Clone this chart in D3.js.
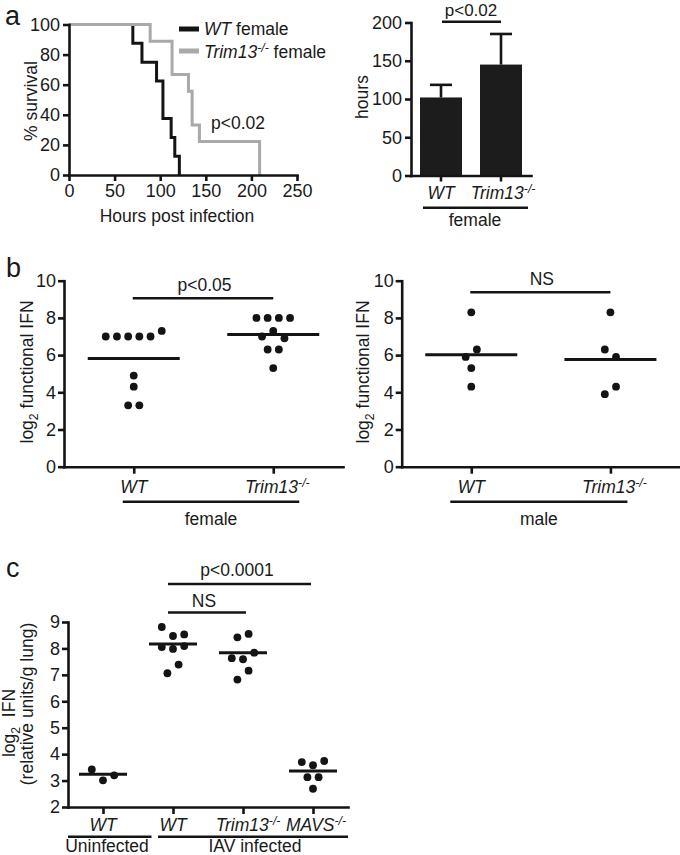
<!DOCTYPE html>
<html><head><meta charset="utf-8">
<script src="https://cdn.jsdelivr.net/npm/d3@7"></script>
<style>
body{margin:0;background:#fff}
svg{display:block;font-family:"Liberation Sans",Arial,Helvetica,sans-serif}
</style></head><body>
<svg id="chart" width="680" height="855"></svg>
<script>
// ---------------- DATA ----------------
// Panel a (left): Kaplan-Meier steps (hours, % survival)
const survWT_t = [0, 70, 80, 96, 103, 112, 116, 121];
const survWT_p = [100, 87.5, 75, 62.5, 37.5, 25, 12.5, 0];
const survKO_t = [0, 89, 113, 131, 135, 143, 209];
const survKO_p = [100, 88.9, 66.7, 55.6, 33.3, 22.2, 0];
const survTicksX = [0, 50, 100, 150, 200, 250];
const survTicksY = [0, 20, 40, 60, 80, 100];

// Panel a (right): mean survival hours
const barGroups = ["WT", "Trim13"];
const barMeans = [102, 145];
const barErrTop = [118.5, 185];
const barTicks = [0, 50, 100, 150, 200];

// Panel b: log2 functional IFN
const bGroups = ["WT", "Trim13"];
const bFemaleWT = [7, 7, 7, 7, 7, 7.3, 4.9, 4.3, 3.3, 3.3];
const bFemaleKO = [8, 8, 8, 8, 7.0, 7.3, 6.9, 6.3, 6.3, 5.3];
const bMaleWT = [8.3, 5.9, 6.3, 5.3, 4.3];
const bMaleKO = [8.3, 6.3, 5.9, 3.9, 4.3];
const bFemaleMeans = [5.82, 7.11];
const bMaleMeans = [6.02, 5.77];
const bTicks = [0, 2, 4, 6, 8, 10];

// Panel c: log2 IFN (relative units/g lung)
const cGroups = ["WTu", "WT", "Trim13", "MAVS"];
const cWTu = [3.42, 3.01, 3.2];
const cWT = [8.81, 8.47, 8.53, 8.05, 7.98, 8.09, 7.06, 7.39];
const cKO = [8.42, 8.55, 7.63, 7.59, 7.84, 6.82, 7.16];
const cMAVS = [3.70, 3.58, 3.74, 3.13, 3.13, 2.69];
const cMeans = [3.24, 8.17, 7.84, 3.36];
const cTicks = [2, 3, 4, 5, 6, 7, 8, 9];

// ---------------- STYLE ----------------
const svg = d3.select("#chart");
const BLACK = "#141414", GREY = "#a9a9a9", TXT = "#1a1a1a";
const TICK_FS = 18, LAB_FS = 17.5, SW = 2.6;
const fmt = d3.format("d");

function styleAxis(g) {
  g.attr("font-family", null).attr("font-size", null);
  g.select(".domain").attr("stroke", BLACK).attr("stroke-width", SW).attr("stroke-linecap", "square");
  g.selectAll(".tick line").attr("stroke", BLACK).attr("stroke-width", SW);
  g.selectAll(".tick text").attr("fill", TXT).style("font-size", TICK_FS + "px");
}
function richText(parent, x, y, parts, opts = {}) {
  const fs = opts.fs || LAB_FS;
  const t = parent.append("text").attr("x", x).attr("y", y)
    .attr("text-anchor", opts.anchor || "start").attr("fill", TXT)
    .style("font-size", fs + "px");
  if (opts.dx) t.attr("dx", opts.dx);
  let back = 0;
  parts.forEach(p => {
    const s = t.append("tspan").text(p.t);
    if (p.italic) s.style("font-style", "italic");
    if (p.sup) { s.attr("dy", -6 - back).style("font-size", (fs * 0.7) + "px"); back = -6; }
    else if (p.sub) { s.attr("dy", 5 - back).style("font-size", (fs * 0.7) + "px"); back = 5; }
    else if (back) { s.attr("dy", -back); back = 0; }
  });
  return t;
}
function hline(parent, x1, x2, y, w, col) {
  parent.append("line").attr("x1", x1).attr("x2", x2).attr("y1", y).attr("y2", y)
    .attr("stroke", col || BLACK).attr("stroke-width", w || SW);
}
function rotLabel(x, y, parts) {
  const g = svg.append("g").attr("transform", `translate(${x},${y}) rotate(-90)`);
  richText(g, 0, 0, parts, { anchor: "middle" });
}
const KO = [{ t: "Trim13", italic: true }, { t: "-/-", italic: true, sup: true }];
const WTl = [{ t: "WT", italic: true }];

// beeswarm-like row layout: points with close y share a centred row
function swarm(values, y, step, thr) {
  const idx = values.map((v, i) => i).sort((a, b) => values[b] - values[a] || a - b);
  const rows = []; let cur = [idx[0]];
  for (let k = 1; k < idx.length; k++) {
    if (Math.abs(y(values[idx[k - 1]]) - y(values[idx[k]])) < thr) cur.push(idx[k]);
    else { rows.push(cur); cur = [idx[k]]; }
  }
  rows.push(cur);
  const off = new Array(values.length).fill(0);
  rows.forEach(r => { r.sort((a, b) => a - b); r.forEach((i, j) => off[i] = (j - (r.length - 1) / 2) * step); });
  return off;
}
function dots(x, y, groups, sets, means, halfW) {
  const g = svg.append("g");
  sets.forEach((vals, gi) => {
    const cx = x(groups[gi]);
    const off = swarm(vals, y, 11.2, 9.5);
    g.selectAll(null).data(vals).join("circle")
      .attr("cx", (d, i) => cx + off[i]).attr("cy", d => y(d)).attr("r", 3.9).attr("fill", BLACK);
    hline(g, cx - halfW, cx + halfW, y(means[gi]), 3);
  });
}
function panelLetter(ch, x, y) {
  svg.append("text").attr("x", x).attr("y", y).text(ch).attr("fill", TXT).style("font-size", "27px");
}

// ---------------- PANEL a: survival ----------------
{
  const x = d3.scaleLinear().domain([0, 250]).range([69, 297]);
  const y = d3.scaleLinear().domain([0, 100]).range([175, 24.5]);
  const line = d3.line().x(d => x(d[0])).y(d => y(d[1])).curve(d3.curveStepAfter);
  svg.append("path").datum(survWT_t.map((t, i) => [t, survWT_p[i]])).attr("d", line)
    .attr("fill", "none").attr("stroke", BLACK).attr("stroke-width", 3);
  svg.append("path").datum(survKO_t.map((t, i) => [t, survKO_p[i]])).attr("d", line)
    .attr("fill", "none").attr("stroke", GREY).attr("stroke-width", 3);
  svg.append("g").attr("transform", `translate(${x(0)},0)`)
    .call(d3.axisLeft(y).tickValues(survTicksY).tickFormat(fmt).tickSize(6).tickPadding(3).tickSizeOuter(0)).call(styleAxis);
  svg.append("g").attr("transform", `translate(0,${y(0)})`)
    .call(d3.axisBottom(x).tickValues(survTicksX).tickFormat(fmt).tickSize(6).tickPadding(3).tickSizeOuter(0)).call(styleAxis);
  svg.append("text").attr("x", 177).attr("y", 222).attr("text-anchor", "middle").attr("fill", TXT)
    .style("font-size", LAB_FS + "px").text("Hours post infection");
  rotLabel(37, 101, [{ t: "% survival" }]);
  // legend
  hline(svg, 179, 199, 29, 5);
  hline(svg, 179, 199, 51, 5, GREY);
  richText(svg, 204, 35, [{ t: "WT", italic: true }, { t: " female" }]);
  richText(svg, 204, 58, [...KO, { t: " female" }]);
  richText(svg, 211, 129, [{ t: "p<0.02" }]);
  panelLetter("a", 5, 25);
}

// ---------------- PANEL a: bars ----------------
{
  const x = d3.scaleBand().domain(barGroups).range([411, 531]).paddingInner(0.3).paddingOuter(0.15);
  const y = d3.scaleLinear().domain([0, 200]).range([175.5, 22.5]);
  const g = svg.append("g");
  barGroups.forEach((k, i) => {
    const cx = x(k) + x.bandwidth() / 2;
    g.append("rect").attr("x", x(k)).attr("width", x.bandwidth())
      .attr("y", y(barMeans[i])).attr("height", y(0) - y(barMeans[i])).attr("fill", "#1c1c1c");
    g.append("line").attr("x1", cx).attr("x2", cx).attr("y1", y(barMeans[i])).attr("y2", y(barErrTop[i]))
      .attr("stroke", BLACK).attr("stroke-width", SW);
    hline(g, cx - 11, cx + 11, y(barErrTop[i]));
  });
  svg.append("g").attr("transform", `translate(411,0)`)
    .call(d3.axisLeft(y).tickValues(barTicks).tickFormat(fmt).tickSize(6).tickPadding(3).tickSizeOuter(0)).call(styleAxis);
  svg.append("g").attr("transform", `translate(0,${y(0)})`)
    .call(d3.axisBottom(x).tickSize(6).tickFormat("").tickSizeOuter(0)).call(styleAxis);
  const c0 = x("WT") + x.bandwidth() / 2, c1 = x("Trim13") + x.bandwidth() / 2;
  richText(svg, c0, 198.5, WTl, { anchor: "middle" });
  richText(svg, c1, 198.5, KO, { anchor: "middle", dx: 2 });
  hline(svg, c0 - 18, c1 + 27, 207.7);
  richText(svg, (c0 + c1) / 2 + 4, 225.5, [{ t: "female" }], { anchor: "middle" });
  hline(svg, c0 + 1, c1, y(200) - 0.8);
  richText(svg, (c0 + c1) / 2, 16, [{ t: "p<0.02" }], { anchor: "middle", fs: 17 });
  rotLabel(368, 97, [{ t: "hours" }]);
}

// ---------------- PANEL b ----------------
function panelB(x0, x1, wt, ko, means, groupName, sigY, sigText, lineL, lineR, labelX) {
  const x = d3.scalePoint().domain(bGroups).range([x0, x1]).padding(0.5);
  const y = d3.scaleLinear().domain([0, 10]).range([466.7, 280.7]);
  dots(x, y, bGroups, [wt, ko], means, 46);
  svg.append("g").attr("transform", `translate(${x0},0)`)
    .call(d3.axisLeft(y).tickValues(bTicks).tickFormat(fmt).tickSize(6).tickPadding(2).tickSizeOuter(0)).call(styleAxis);
  svg.append("g").attr("transform", `translate(0,${y(0)})`)
    .call(d3.axisBottom(x).tickSize(7).tickFormat("").tickSizeOuter(0)).call(styleAxis);
  richText(svg, x("WT"), 492.5, WTl, { anchor: "middle" });
  richText(svg, x("Trim13"), 492.5, KO, { anchor: "middle", dx: 4 });
  hline(svg, x("WT") + lineL, x("Trim13") + lineR, 501.7);
  const mid = (x("WT") + lineL + x("Trim13") + lineR) / 2;
  richText(svg, mid, 525, [{ t: groupName }], { anchor: "middle" });
  hline(svg, x("WT") - 1, x("Trim13"), sigY);
  richText(svg, (x("WT") + x("Trim13")) / 2 + 1, sigY - 7, [{ t: sigText }], { anchor: "middle" });
  rotLabel(labelX, 372, [{ t: "log" }, { t: "2", sub: true }, { t: " functional IFN" }]);
}
panelB(64, 343, bFemaleWT, bFemaleKO, bFemaleMeans, "female", 298.3, "p<0.05", -11, 26, 33);
panelB(401.7, 680, bMaleWT, bMaleKO, bMaleMeans, "male", 292.3, "NS", -21, 17, 369);
panelLetter("b", 6, 276.5);

// ---------------- PANEL c ----------------
{
  const x = d3.scalePoint().domain(cGroups).range([68, 348]).padding(0.5);
  const y = d3.scaleLinear().domain([2, 9]).range([807, 622]);
  dots(x, y, cGroups, [cWTu, cWT, cKO, cMAVS], cMeans, 24);
  svg.append("g").attr("transform", `translate(68,0)`)
    .call(d3.axisLeft(y).tickValues(cTicks).tickFormat(fmt).tickSize(6).tickPadding(2).tickSizeOuter(0)).call(styleAxis);
  svg.append("g").attr("transform", `translate(0,${y(2)})`)
    .call(d3.axisBottom(x).tickSize(7).tickFormat("").tickSizeOuter(0)).call(styleAxis);
  richText(svg, x("WTu"), 831, WTl, { anchor: "middle" });
  richText(svg, x("WT"), 831, WTl, { anchor: "middle" });
  richText(svg, x("Trim13"), 831, KO, { anchor: "middle", dx: 5 });
  richText(svg, x("MAVS"), 831, [{ t: "MAVS", italic: true }, { t: "-/-", italic: true, sup: true }], { anchor: "middle", dx: 3 });
  hline(svg, x("WTu") - 35, x("WTu") + 48.5, 836.7);
  hline(svg, x("WT") - 15, x("MAVS") + 35, 836.7);
  richText(svg, 107, 851.5, [{ t: "Uninfected" }], { anchor: "middle" });
  richText(svg, 255, 851.5, [{ t: "IAV infected" }], { anchor: "middle" });
  // significance
  hline(svg, x("WT") - 5, x("Trim13") + 3, 612.5);
  richText(svg, 204, 606.5, [{ t: "NS" }], { anchor: "middle" });
  hline(svg, x("WT") - 5, x("MAVS") - 2, 584);
  richText(svg, 237, 575.5, [{ t: "p<0.0001" }], { anchor: "middle" });
  rotLabel(15, 723, [{ t: "log" }, { t: "2", sub: true }, { t: "\u00a0\u00a0IFN" }]);
  rotLabel(33, 704, [{ t: "(relative units/g lung)" }]);
  panelLetter("c", 6, 577);
}
</script>
</body></html>
